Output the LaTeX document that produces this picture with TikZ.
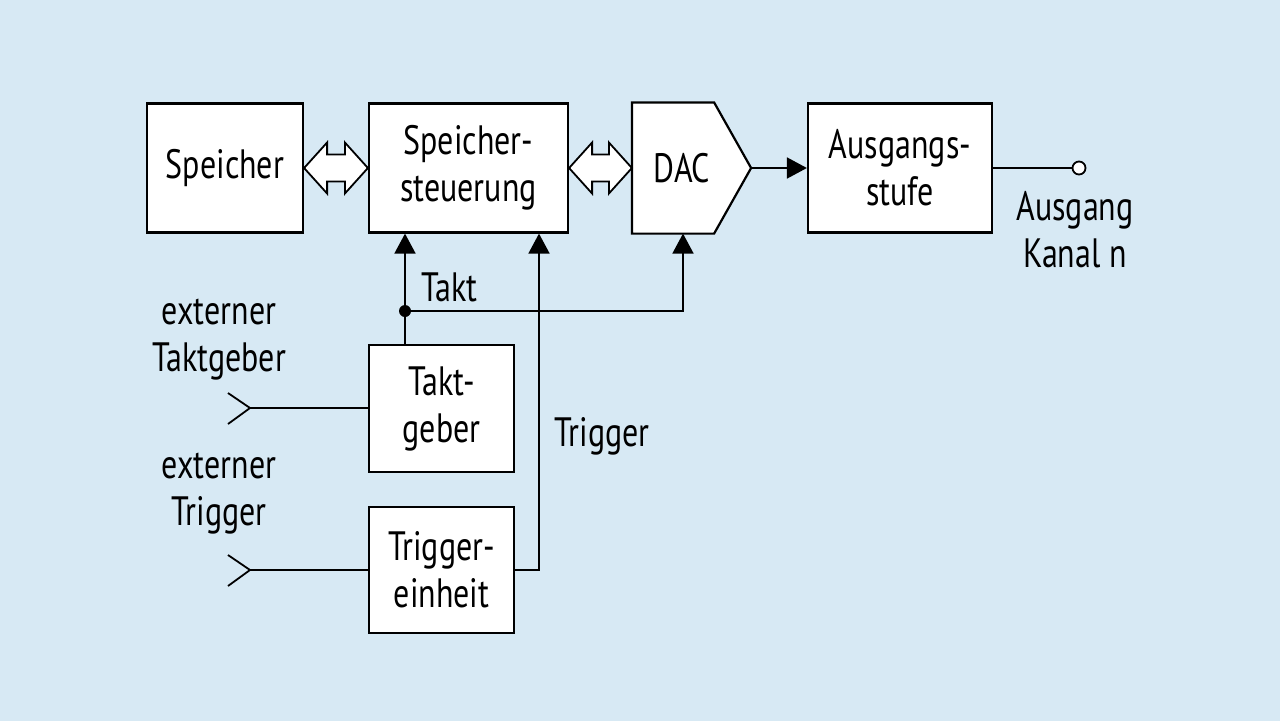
\documentclass[tikz,border=0pt]{standalone}
\usepackage{fontspec}
\setmainfont{PT Sans}[FakeStretch=0.78]
\usetikzlibrary{arrows.meta,calc}

\definecolor{hgblau}{RGB}{215,233,244}

\tikzset{
	block/.style = {draw, fill=white, line width=2.2pt, minimum height=129pt, align=center, inner sep=0pt},
	leitung/.style = {line width=1.8pt},
	pfeil/.style = {leitung, -{Triangle[length=20pt,width=21pt]}},
	bus/.style = {draw, fill=white, line width=1.8pt, line join=miter},
	txt/.style = {align=center}
}

\begin{document}
\begin{tikzpicture}[x=1pt, y=-1pt, font=\fontsize{41}{47}\selectfont]
		\fill[hgblau] (0,0) rectangle (1280,721);
		\useasboundingbox (0,0) rectangle (1280,721);
		
		\node[block, minimum width=156pt] (speicher) at (225,168) {Speicher};
		\node[block, minimum width=199pt] (steuer) at (468.5,168) {Speicher-\\steuerung};
		\node[block, draw=none, fill=none, minimum width=80pt] (dac) at (673,168) {};
		\node[block, minimum width=184pt] (ausgang) at (900,168) {Ausgangs-\\stufe};
		\node[block, minimum width=145pt, minimum height=127pt] (taktgeber) at (441.5,408.5) {Takt-\\geber};
		\node[block, minimum width=145pt, minimum height=126pt] (trigger) at (441.5,570) {Trigger-\\einheit};
		
		\draw[fill=white, line width=2.2pt, line join=miter] (dac.north west) -- (dac.north east)
			-- ($(dac.east)+(37,0)$) coordinate (dacspitze) -- (dac.south east) -- (dac.south west) -- cycle;
		\node[txt] (lbldac) at ($(dac)+(9,0)$) {DAC};
		
		\node[draw, circle, fill=white, leitung, inner sep=0pt, minimum size=13pt] (out) at (1079,168) {};
		\node[circle, fill, inner sep=0pt, minimum size=12pt] (knoten) at (405,311) {};
		\coordinate (trig) at (539,570);
		\coordinate (extakt) at (250,408);
		\coordinate (extrig) at (250,570);
		
		% Busse
		\foreach \l/\r in {speicher/steuer, steuer/dac}
			\draw[bus] (\l.east) -- ++(23,25.5) -- ++(0,-12) -- ($(\r.west)+(-23,13.5)$) -- ++(0,12)
				-- (\r.west) -- ++(-23,-25.5) -- ++(0,12) -- ($(\l.east)+(23,-13.5)$) -- ++(0,-12) -- cycle;
		
		% Takt und Trigger
		\draw[leitung] (taktgeber.north -| knoten) -- (knoten);
		\draw[pfeil] (knoten) -- (knoten |- steuer.south);
		\draw[pfeil] (knoten) -| ($(dac.south)+(10,0)$);
		\draw[pfeil] (trigger.east) -- (trig) -- (trig |- steuer.south);
		\draw[pfeil] (dacspitze) -- (ausgang.west);
		\draw[leitung] (ausgang.east) -- (out);
		
		% externe Eingaenge
		\foreach \e/\b in {extakt/taktgeber, extrig/trigger} {
			\draw[leitung] (\b.west |- \e) -- (\e);
			\draw[leitung] ($(\e)+(-22,-15)$) -- (\e) -- ($(\e)+(-22,16)$);
		}
		
		\node[txt] (lbltakt) at (449.5,287.5) {Takt};
		\node[txt] (lbltrig) at (602,436) {Trigger};
		\node[txt] (lblextakt) at (219,340) {externer\\Taktgeber};
		\node[txt] (lblextrig) at (219,494) {externer\\Trigger};
		\node[txt] (lblout) at (1075,230) {Ausgang\\Kanal n};
	\end{tikzpicture}
\end{document}
